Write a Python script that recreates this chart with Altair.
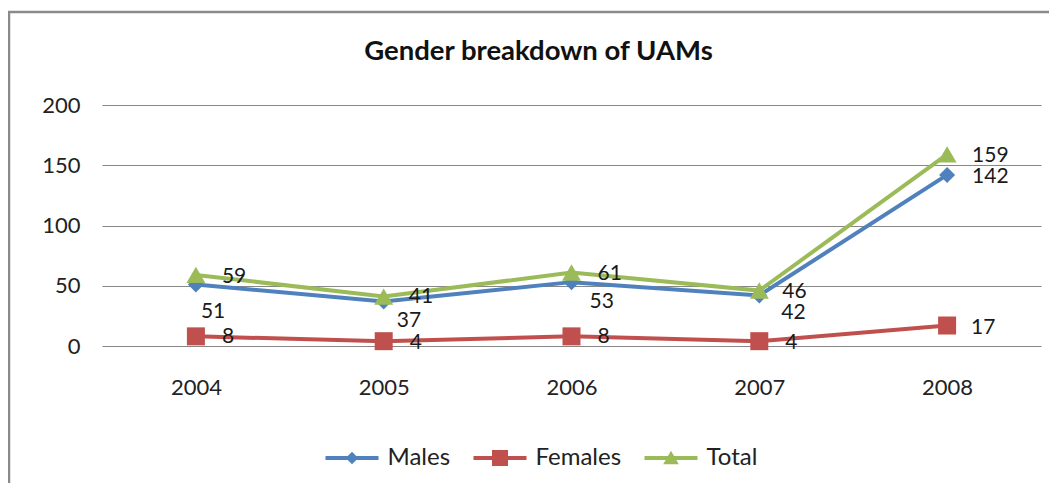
import altair as alt
import pandas as pd

years = ["2004", "2005", "2006", "2007", "2008"]
series = ["Males", "Females", "Total"]
males = [51, 37, 53, 42, 142]
females = [8, 4, 8, 4, 17]
total = [59, 41, 61, 46, 159]
colors = ["#4F81BD", "#C0504D", "#9BBB59"]

# label placement offsets (pixels) per point
males_off = [(5, 27), (13, 20), (18, 20), (22, 18), (25, 2)]
females_off = [(26, 1), (26, 2), (26, 1), (26, 2), (24, 2)]
total_off = [(26, 2), (25, 0), (26, 1.5), (23, 1), (25, 1.5)]

rows = []
for name, vals, offs in [("Males", males, males_off), ("Females", females, females_off), ("Total", total, total_off)]:
    for y, v, (dx, dy) in zip(years, vals, offs):
        rows.append({"year": y, "series": name, "value": v, "dx": dx, "dy": dy})
df = pd.DataFrame(rows)

FONT = "Lato"
W, H = 939, 241
YMAX = 200

xenc = alt.X("year:O", scale=alt.Scale(type="point", padding=0.5),
             axis=alt.Axis(title=None, labelAngle=0, domain=False, ticks=False,
                           labelPadding=31, labelFontSize=22, labelFont=FONT,
                           labelColor="#222222"))
yscale = alt.Scale(domain=[0, YMAX])
yaxis = alt.Axis(title=None, values=[0, 50, 100, 150, 200], domain=False,
                 ticks=False, labelPadding=22, labelFontSize=22, labelFont=FONT,
                 labelColor="#222222", grid=True, gridColor="#878787", gridWidth=1)
yenc = alt.Y("value:Q", scale=yscale, axis=yaxis)

base = alt.Chart(df)

layers = []
shapes = {"Males": ("diamond", 256), "Females": ("square", 324), "Total": ("triangle-up", 360)}
for s, c in zip(series, colors):
    sub = base.transform_filter(alt.datum.series == s)
    layers.append(sub.mark_line(color=c, strokeWidth=4).encode(x=xenc, y=yenc))
    shp, sz = shapes[s]
    layers.append(sub.mark_point(shape=shp, size=sz, filled=True, color=c, opacity=1)
                  .encode(x=xenc, y=yenc))

labels = base.transform_calculate(
    label_y=f"datum.value - datum.dy * {YMAX} / {H}"
).mark_text(align="left", baseline="middle", font=FONT, fontSize=21,
            color="#1a1a1a").encode(
    x=xenc,
    y=alt.Y("label_y:Q", scale=yscale, axis=yaxis),
    xOffset=alt.XOffset("dx:Q", scale=None),
    text="value:Q")

line_part = "M-2.65,-0.2H2.65V0.2H-2.65Z"
legend_shapes = [
    line_part + "M0,-0.62L0.62,0L0,0.62L-0.62,0Z",
    line_part + "M-0.8,-0.8H0.8V0.8H-0.8Z",
    line_part + "M0,-0.72L0.78,0.62H-0.78Z",
]

legend_layer = base.transform_filter("false").mark_point(filled=True, opacity=1).encode(
    x=xenc, y=yenc,
    color=alt.Color("series:N", scale=alt.Scale(domain=series, range=colors),
                    legend=alt.Legend(title=None, orient="none", direction="horizontal",
                                      legendX=238, legendY=341, symbolSize=400,
                                      symbolStrokeWidth=0, labelOffset=23.5,
                                      columnPadding=22, labelFont=FONT,
                                      labelFontSize=24, labelColor="#222222",
                                      symbolOpacity=1)),
    shape=alt.Shape("series:N", scale=alt.Scale(domain=series, range=legend_shapes)),
)

border = alt.Chart(pd.DataFrame({"b": [0]})).mark_rect(
    filled=False, stroke="#8a8a8a", strokeWidth=2.5).encode(
    x=alt.value(-93), x2=alt.value(2000), y=alt.value(-93), y2=alt.value(1000))

chart = alt.layer(border, *layers, labels, legend_layer).properties(
    width=W, height=H,
    autosize=alt.AutoSizeParams(type="none"),
    padding={"left": 94, "top": 97, "right": 8, "bottom": 137},
    title=alt.TitleParams("Gender breakdown of UAMs", font=FONT, fontSize=27.5,
                          fontWeight="bold", color="#111111", anchor="middle",
                          frame="group", offset=-55, dx=-33),
).configure_view(strokeWidth=0)

chart.save("out.html", embed_options={"renderer": "svg", "actions": False})
